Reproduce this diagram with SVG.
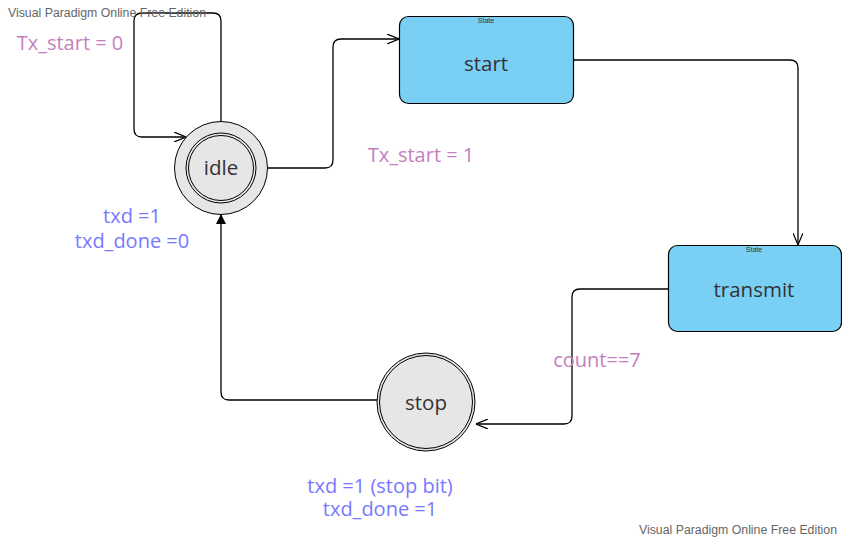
<svg xmlns="http://www.w3.org/2000/svg" width="842" height="539" viewBox="0 0 842 539">
<defs>
<style>
.lbl{font-family:"Open Sans","Noto Sans",sans-serif;font-size:20px;text-anchor:middle}
.pink{fill:#c47fbf}
.blue{fill:#7878ff}
.name{font-family:"Open Sans","Noto Sans",sans-serif;font-size:20.5px;fill:#333;text-anchor:middle}
.st{font-family:"Liberation Sans",Arial,sans-serif;font-size:7px;fill:#333;text-anchor:middle}
.wm{font-family:"Liberation Sans",Arial,sans-serif;font-size:12.3px;fill:#666}
.box{fill:#7acff5;stroke:#000;stroke-width:1.2}
.circ{fill:#e6e6e6;stroke:#000;stroke-width:1}
.edge{fill:none;stroke:#000;stroke-width:1.3}
</style>
<marker id="open" viewBox="0 0 12 10" refX="12" refY="5" markerWidth="12" markerHeight="10" markerUnits="userSpaceOnUse" orient="auto">
<path d="M0,0 L12,5 L0,10" fill="none" stroke="#000" stroke-width="1.2"/>
</marker>
<marker id="solid" viewBox="0 0 10 10" refX="10" refY="5" markerWidth="10" markerHeight="10" markerUnits="userSpaceOnUse" orient="auto">
<path d="M0,0 L10,5 L0,10 Z" fill="#000"/>
</marker>
</defs>
<rect width="842" height="539" fill="#fff"/>
<g id="connectors">
<path class="edge" d="M221,122 V21 Q221,13 213,13 H142 Q134,13 134,21 V129 Q134,137 142,137 H186" marker-end="url(#open)"/>
<path class="edge" d="M268,168 H325 Q333,168 333,160 V47 Q333,39 341,39 H399" marker-end="url(#open)"/>
<path class="edge" d="M573,60 H790 Q798,60 798,68 V245" marker-end="url(#open)"/>
<path class="edge" d="M668,289 H580 Q572,289 572,297 V416 Q572,424 564,424 H476" marker-end="url(#open)"/>
<path class="edge" d="M377,400 H229 Q221,400 221,392 V214" marker-end="url(#solid)"/>
</g>
<g id="idle">
<circle class="circ" cx="221" cy="168" r="46.5"/>
<circle cx="221" cy="168" r="35" fill="none" stroke="#000" stroke-width="1"/>
<circle cx="221" cy="168" r="32.5" fill="none" stroke="#000" stroke-width="1"/>
<text class="name" x="221" y="175">idle</text>
</g>
<g id="start">
<rect class="box" x="399.5" y="16.5" width="174" height="87" rx="9"/>
<text class="st" x="486" y="23">State</text>
<text class="name" x="486" y="71">start</text>
</g>
<g id="transmit">
<rect class="box" x="668.5" y="245.5" width="173" height="86" rx="9"/>
<text class="st" x="754" y="252">State</text>
<text class="name" x="754" y="297">transmit</text>
</g>
<g id="stop">
<circle class="circ" cx="426" cy="402" r="49"/>
<circle cx="426" cy="402" r="46.5" fill="none" stroke="#000" stroke-width="1"/>
<text class="name" x="426" y="410">stop</text>
</g>
<g id="labels">
<text class="lbl pink" x="70" y="50">Tx_start = 0</text>
<text class="lbl pink" x="421" y="162">Tx_start = 1</text>
<text class="lbl pink" x="597" y="367">count==7</text>
<text class="lbl blue" x="132" y="223">txd =1</text>
<text class="lbl blue" x="132" y="248">txd_done =0</text>
<text class="lbl blue" x="380" y="493">txd =1 (stop bit)</text>
<text class="lbl blue" x="380" y="516">txd_done =1</text>
</g>
<text class="wm" x="8" y="17">Visual Paradigm Online Free Edition</text>
<text class="wm" x="837" y="534" text-anchor="end">Visual Paradigm Online Free Edition</text>
</svg>
